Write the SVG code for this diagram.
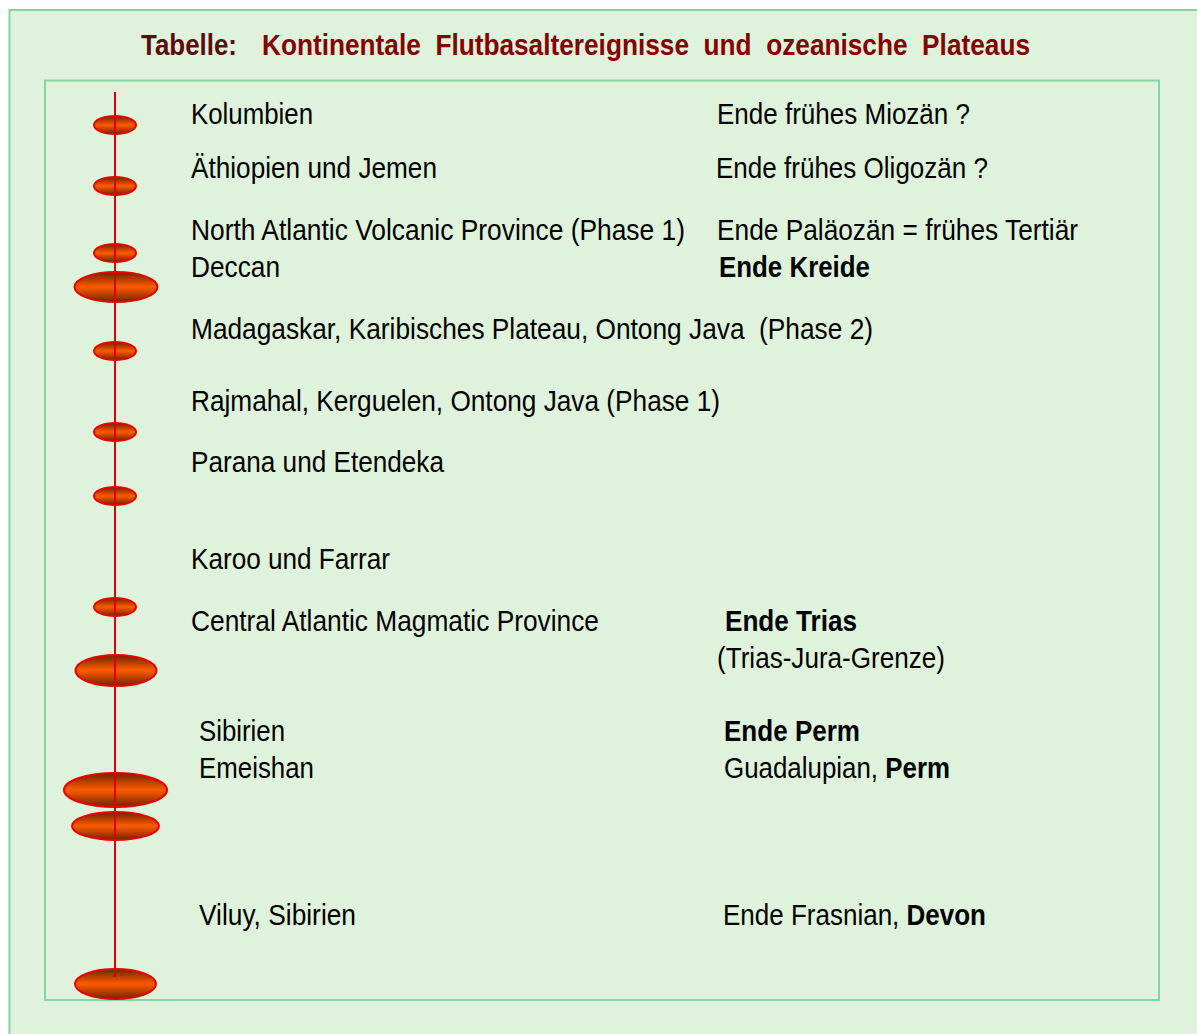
<svg xmlns="http://www.w3.org/2000/svg" width="1197" height="1034" viewBox="0 0 1197 1034">
<style>
.t{font-family:"Liberation Sans Narrow","Liberation Sans",Arial,sans-serif;font-size:29px;fill:#000}
.b{font-weight:bold}
.ttl{font-family:"Liberation Sans Narrow","Liberation Sans",Arial,sans-serif;font-size:29px;font-weight:bold}
.ev{fill:url(#og);stroke:#e80000;stroke-width:2}
.axis{stroke:#dd0000;stroke-width:2;fill:none}
</style>
<defs>
<linearGradient id="og" x1="0" y1="0" x2="0" y2="1">
<stop offset="0" stop-color="#6e2400"/>
<stop offset="0.5" stop-color="#ff5a00"/>
<stop offset="1" stop-color="#6e2400"/>
</linearGradient>
</defs>
<rect x="0" y="0" width="1197" height="1034" fill="#ffffff"/>
<rect id="outer" x="9.5" y="10" width="1200" height="1040" fill="#dff2dc" stroke="#84d4a6" stroke-width="2"/>
<g id="title">
<text class="ttl" y="55"><tspan x="141" fill="#5c0c0c" textLength="96" lengthAdjust="spacingAndGlyphs">Tabelle:</tspan><tspan x="262" fill="#850000" textLength="768" lengthAdjust="spacingAndGlyphs" xml:space="preserve">Kontinentale  Flutbasaltereignisse  und  ozeanische  Plateaus</tspan></text>
</g>
<rect id="inner" x="45" y="80.5" width="1114" height="919.5" fill="#dff2dc" stroke="#84d4a6" stroke-width="2"/>

<g id="e1"><ellipse class="ev" cx="115" cy="125" rx="21" ry="9"/>
<text class="t" x="191" y="124" textLength="122" lengthAdjust="spacingAndGlyphs">Kolumbien</text>
<text class="t" x="717" y="124" textLength="253" lengthAdjust="spacingAndGlyphs">Ende frühes Miozän ?</text></g>
<g id="e2"><ellipse class="ev" cx="115" cy="186" rx="21" ry="9"/>
<text class="t" x="191" y="178" textLength="246" lengthAdjust="spacingAndGlyphs">Äthiopien und Jemen</text>
<text class="t" x="716" y="178" textLength="272" lengthAdjust="spacingAndGlyphs">Ende frühes Oligozän ?</text></g>
<g id="e3"><ellipse class="ev" cx="115" cy="253" rx="21" ry="9"/>
<text class="t" x="191" y="240" textLength="494" lengthAdjust="spacingAndGlyphs">North Atlantic Volcanic Province (Phase 1)</text>
<text class="t" x="717" y="240" textLength="361" lengthAdjust="spacingAndGlyphs">Ende Paläozän = frühes Tertiär</text></g>
<g id="e4"><ellipse class="ev" cx="116" cy="287" rx="41.5" ry="15"/>
<text class="t" x="191" y="277" textLength="89" lengthAdjust="spacingAndGlyphs">Deccan</text>
<text class="t b" x="719" y="277" textLength="151" lengthAdjust="spacingAndGlyphs">Ende Kreide</text></g>
<g id="e5"><ellipse class="ev" cx="115" cy="351" rx="21" ry="9"/>
<text class="t" x="191" y="339" textLength="682" lengthAdjust="spacingAndGlyphs" xml:space="preserve">Madagaskar, Karibisches Plateau, Ontong Java  (Phase 2)</text></g>
<g id="e6"><ellipse class="ev" cx="115" cy="432" rx="21" ry="9"/>
<text class="t" x="191" y="411" textLength="529" lengthAdjust="spacingAndGlyphs">Rajmahal, Kerguelen, Ontong Java (Phase 1)</text></g>
<g id="e7"><ellipse class="ev" cx="115" cy="496" rx="21" ry="9"/>
<text class="t" x="191" y="472" textLength="253" lengthAdjust="spacingAndGlyphs">Parana und Etendeka</text></g>
<g id="e8"><ellipse class="ev" cx="115" cy="607" rx="21" ry="9"/>
<text class="t" x="191" y="569" textLength="199" lengthAdjust="spacingAndGlyphs">Karoo und Farrar</text></g>
<g id="e9"><ellipse class="ev" cx="116" cy="670.5" rx="40.5" ry="15.5"/>
<text class="t" x="191" y="631" textLength="408" lengthAdjust="spacingAndGlyphs">Central Atlantic Magmatic Province</text>
<text class="t b" x="725" y="631" textLength="132" lengthAdjust="spacingAndGlyphs">Ende Trias</text>
<text class="t" x="717" y="668" textLength="228" lengthAdjust="spacingAndGlyphs">(Trias-Jura-Grenze)</text></g>
<g id="e10"><ellipse class="ev" cx="115.5" cy="790" rx="51.5" ry="17"/>
<text class="t" x="199" y="741" textLength="86" lengthAdjust="spacingAndGlyphs">Sibirien</text>
<text class="t b" x="724" y="741" textLength="136" lengthAdjust="spacingAndGlyphs">Ende Perm</text></g>
<g id="e11"><ellipse class="ev" cx="115.5" cy="826" rx="43.5" ry="14"/>
<text class="t" x="199" y="778" textLength="115" lengthAdjust="spacingAndGlyphs">Emeishan</text>
<text class="t" x="724" y="778" textLength="226" lengthAdjust="spacingAndGlyphs">Guadalupian, <tspan class="b">Perm</tspan></text></g>
<g id="e12"><ellipse class="ev" cx="115.5" cy="984" rx="40.5" ry="15"/>
<text class="t" x="199" y="925" textLength="157" lengthAdjust="spacingAndGlyphs">Viluy, Sibirien</text>
<text class="t" x="723" y="925" textLength="263" lengthAdjust="spacingAndGlyphs">Ende Frasnian, <tspan class="b">Devon</tspan></text></g>

<g id="connectors">
<line class="axis" x1="115" y1="92" x2="115" y2="977"/>
</g>
</svg>
